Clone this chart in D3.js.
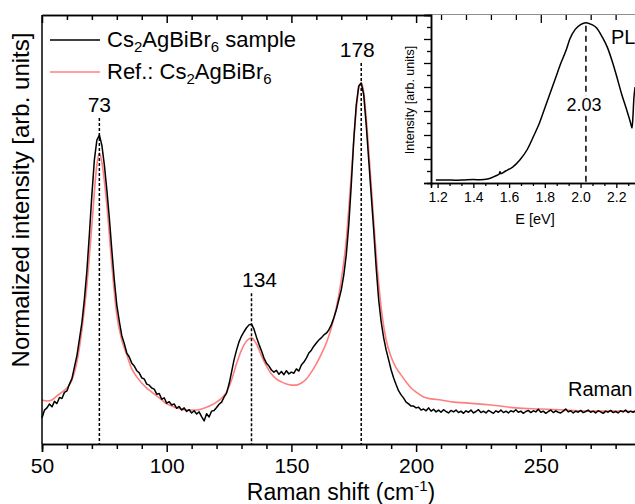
<!DOCTYPE html>
<html><head><meta charset="utf-8">
<script src="https://cdn.jsdelivr.net/npm/d3@7/dist/d3.min.js"></script>
<style>body{margin:0;background:#fff}svg{display:block}text{font-family:"Liberation Sans",Arial,sans-serif;fill:#000}</style>
</head><body><svg id="c" width="635" height="504"></svg>
<script>
// ---------- DATA ----------
const sampleShift = d3.range(50, 291, 1);
const sampleIntensity = [
0.072,0.094,0.100,0.111,0.103,0.118,0.112,0.129,0.126,0.143,
0.147,0.166,0.181,0.213,0.245,0.290,0.336,0.401,0.480,0.581,
0.690,0.787,0.842,0.856,0.828,0.773,0.704,0.626,0.537,0.454,
0.385,0.340,0.300,0.278,0.252,0.241,0.224,0.216,0.203,0.197,
0.183,0.180,0.166,0.163,0.155,0.152,0.138,0.140,0.124,0.128,
0.113,0.117,0.108,0.111,0.099,0.104,0.094,0.100,0.090,0.095,
0.086,0.092,0.083,0.089,0.076,0.064,0.084,0.075,0.091,0.093,
0.101,0.110,0.116,0.130,0.141,0.166,0.199,0.233,0.260,0.283,
0.299,0.311,0.322,0.330,0.332,0.318,0.296,0.276,0.258,0.238,
0.224,0.216,0.205,0.199,0.204,0.193,0.201,0.192,0.203,0.194,
0.199,0.196,0.208,0.202,0.219,0.227,0.238,0.252,0.260,0.271,
0.280,0.288,0.294,0.302,0.307,0.316,0.330,0.349,0.371,0.399,
0.427,0.468,0.524,0.607,0.717,0.842,0.939,0.992,1.000,0.967,
0.884,0.787,0.690,0.593,0.488,0.399,0.338,0.294,0.260,0.233,
0.205,0.183,0.164,0.147,0.136,0.127,0.116,0.111,0.105,0.105,
0.100,0.102,0.094,0.097,0.092,0.100,0.091,0.096,0.089,0.094,
0.088,0.095,0.090,0.086,0.093,0.089,0.094,0.087,0.091,0.085,
0.092,0.088,0.094,0.086,0.090,0.095,0.087,0.091,0.086,0.093,
0.089,0.085,0.092,0.088,0.094,0.087,0.091,0.086,0.092,0.089,
0.095,0.088,0.091,0.085,0.090,0.093,0.087,0.092,0.089,0.096,
0.088,0.091,0.085,0.090,0.094,0.087,0.092,0.088,0.086,0.091,
0.097,0.089,0.092,0.086,0.091,0.088,0.093,0.087,0.090,0.094,
0.088,0.091,0.086,0.092,0.089,0.085,0.091,0.088,0.093,0.087,
0.090,0.086,0.092,0.089,0.094,0.087,0.091,0.088,0.092,0.089,
0.090];

const refShift = [50,52,54,56,58,60,62,64,66,68,70,72,73,74,76,78,80,82,84,86,88,90,92,94,96,98,100,102,104,106,108,110,112,114,116,118,120,122,124,126,128,130,132,134,136,138,140,142,144,146,148,150,152,154,156,158,160,162,164,166,168,170,172,174,176,177,178,179,180,182,184,186,188,190,192,194,196,198,200,203,206,210,215,220,230,240,250,260,270,280,290];
const refIntensity = [0.122,0.119,0.122,0.133,0.144,0.155,0.177,0.227,0.316,0.440,0.607,0.773,0.806,0.781,0.662,0.496,0.357,0.288,0.247,0.208,0.186,0.169,0.155,0.144,0.133,0.122,0.111,0.105,0.100,0.097,0.094,0.094,0.094,0.097,0.102,0.108,0.116,0.127,0.144,0.177,0.222,0.260,0.285,0.294,0.277,0.244,0.216,0.194,0.180,0.172,0.166,0.163,0.163,0.169,0.180,0.199,0.222,0.249,0.280,0.321,0.377,0.454,0.565,0.745,0.925,0.986,1.000,0.975,0.903,0.717,0.524,0.377,0.288,0.241,0.211,0.191,0.172,0.155,0.144,0.130,0.125,0.122,0.116,0.114,0.108,0.100,0.097,0.094,0.091,0.091,0.089];

const peakPositions = [73, 134, 178];
const peakLabels = ["73", "134", "178"];

const plEnergy = [1.19,1.25,1.30,1.35,1.40,1.44,1.48,1.52,1.545,1.549,1.553,1.58,1.62,1.66,1.70,1.74,1.77,1.80,1.83,1.86,1.89,1.92,1.94,1.97,2.00,2.03,2.06,2.09,2.12,2.15,2.18,2.20,2.23,2.26,2.28,2.288,2.293,2.298,2.305];
const plIntensity = [0.025,0.025,0.023,0.026,0.029,0.027,0.033,0.056,0.075,0.095,0.078,0.100,0.133,0.192,0.275,0.400,0.500,0.625,0.750,0.875,1.000,1.110,1.200,1.280,1.320,1.336,1.322,1.292,1.220,1.130,1.000,0.900,0.740,0.600,0.500,0.458,0.550,0.700,0.800];
const plPeak = 2.03;

const xTicksMain = [50, 100, 150, 200, 250];
const insetTicks = [1.2, 1.4, 1.6, 1.8, 2.0, 2.2];

// ---------- DRAW ----------
const svg = d3.select("#c");
const L = 42, T = 15, B = 444;
const x = d3.scaleLinear().domain([50, 300]).range([L, L + 250 * 2.494]);
const y = d3.scaleLinear().domain([0, (B - T) / 361]).range([B, T]);

// curves
svg.append("path")
  .datum(refShift.map((s, i) => [s, refIntensity[i]]))
  .attr("d", d3.line().x(d => x(d[0])).y(d => y(d[1])).curve(d3.curveMonotoneX))
  .attr("fill", "none").attr("stroke", "#ff7f7f").attr("stroke-width", 1.6);
svg.append("path")
  .datum(sampleShift.map((s, i) => [s, sampleIntensity[i]]))
  .attr("d", d3.line().x(d => x(d[0])).y(d => y(d[1])))
  .attr("fill", "none").attr("stroke", "#000").attr("stroke-width", 1.5)
  .attr("stroke-linejoin", "round");

// peak markers
const labelDy = [-23, -37, -26];
const labelDx = [0, 8, -4];
peakPositions.forEach((p, i) => {
  const idx = sampleShift.indexOf(p);
  const top = y(sampleIntensity[idx]) + labelDy[i];
  svg.append("line").attr("x1", x(p)).attr("x2", x(p))
    .attr("y1", top + 6).attr("y2", B)
    .attr("stroke", "#000").attr("stroke-width", 1.5).attr("stroke-dasharray", "3,2");
  svg.append("text").attr("x", x(p) + labelDx[i]).attr("y", top)
    .attr("text-anchor", "middle").attr("font-size", 21).text(peakLabels[i]);
});

// axes
const minorMain = d3.range(50, 301, 10).filter(v => v % 50 !== 0);
const gB = svg.append("g").attr("transform", `translate(0,${B})`);
gB.call(d3.axisBottom(x).tickValues(xTicksMain).tickSize(8).tickPadding(6).tickFormat(d3.format("d")));
gB.append("g").call(d3.axisBottom(x).tickValues(minorMain).tickSize(5).tickFormat(""));
const gT = svg.append("g").attr("transform", `translate(0,${T})`);
gT.call(d3.axisTop(x).tickValues(xTicksMain).tickSizeInner(-8).tickSizeOuter(0).tickFormat(""));
gT.append("g").call(d3.axisTop(x).tickValues(minorMain).tickSizeInner(-5).tickSizeOuter(0).tickFormat(""));
svg.selectAll(".domain").attr("stroke-width", 1.5);
svg.selectAll(".tick line").attr("stroke-width", 1.5);
gB.selectAll("text").attr("font-size", 21).attr("font-family", "Liberation Sans, Arial, sans-serif");
svg.append("line").attr("x1", L).attr("x2", L).attr("y1", T).attr("y2", B)
  .attr("stroke", "#000").attr("stroke-width", 1.5);

svg.append("text").attr("x", 341).attr("y", 500).attr("text-anchor", "middle").attr("font-size", 23)
  .call(t => { t.append("tspan").text("Raman shift (cm");
               t.append("tspan").attr("font-size", 15).attr("dy", -9).text("-1");
               t.append("tspan").attr("dy", 9).text(")"); });
svg.append("text").attr("transform", "translate(29,200) rotate(-90)").attr("text-anchor", "middle")
  .attr("font-size", 24).text("Normalized intensity [arb. units]");

// legend
function formula(t, pre, post) {
  t.append("tspan").text(pre + "Cs");
  t.append("tspan").attr("font-size", 15).attr("dy", 5).text("2");
  t.append("tspan").attr("dy", -5).text("AgBiBr");
  t.append("tspan").attr("font-size", 15).attr("dy", 5).text("6");
  if (post) t.append("tspan").attr("dy", -5).text(post);
}
svg.append("line").attr("x1", 50).attr("x2", 100).attr("y1", 40).attr("y2", 40).attr("stroke", "#000").attr("stroke-width", 1.5);
svg.append("text").attr("x", 107).attr("y", 47).attr("font-size", 22).call(t => formula(t, "", " sample"));
svg.append("line").attr("x1", 50).attr("x2", 100).attr("y1", 72).attr("y2", 72).attr("stroke", "#ff7f7f").attr("stroke-width", 1.6);
svg.append("text").attr("x", 107).attr("y", 79).attr("font-size", 22).call(t => formula(t, "Ref.: ", null));

svg.append("text").attr("x", 568).attr("y", 396).attr("font-size", 20).text("Raman");

// ---------- INSET ----------
const iL = 431, iT = 15, iB = 183;
const ix = d3.scaleLinear().domain([1.163, 2.4]).range([iL, iL + 1.237 * 178.7]);
const iy = d3.scaleLinear().domain([0, 1.4]).range([iB, iT]);
const ins = svg.append("g");
ins.append("rect").attr("x", iL).attr("y", iT).attr("width", 635 - iL).attr("height", iB - iT).attr("fill", "#fff");
const gT2 = ins.append("g").attr("transform", `translate(0,${T})`);
gT2.call(d3.axisTop(x).tickValues(xTicksMain.filter(v => x(v) > iL)).tickSizeInner(-8).tickSizeOuter(0).tickFormat(""));
gT2.append("g").call(d3.axisTop(x).tickValues(minorMain.filter(v => x(v) > iL)).tickSizeInner(-5).tickSizeOuter(0).tickFormat(""));
gT2.selectAll(".domain").remove();
gT2.selectAll(".tick line").attr("stroke-width", 1.3);

ins.append("path").datum(plEnergy.map((e, i) => [e, plIntensity[i]]))
  .attr("d", d3.line().x(d => ix(d[0])).y(d => iy(d[1])).curve(d3.curveMonotoneX))
  .attr("fill", "none").attr("stroke", "#000").attr("stroke-width", 1.5);

ins.append("line").attr("x1", ix(plPeak)).attr("x2", ix(plPeak)).attr("y1", iy(d3.max(plIntensity)) + 3).attr("y2", iB)
  .attr("stroke", "#000").attr("stroke-width", 1.5).attr("stroke-dasharray", "6,4");
ins.append("text").attr("x", ix(plPeak) - 2).attr("y", 111).attr("text-anchor", "middle").attr("font-size", 18)
  .attr("stroke", "#fff").attr("stroke-width", 5).attr("paint-order", "stroke").text(plPeak.toFixed(2));
ins.append("text").attr("x", 611).attr("y", 44).attr("font-size", 20).text("PL");

const iMinorX = d3.range(0, 18).map(k => +(1.2 + k * 0.2 / 3).toFixed(4)).filter(v => Math.abs(v * 5 - Math.round(v * 5)) > 1e-3);
const gIB = ins.append("g").attr("transform", `translate(0,${iB})`);
gIB.call(d3.axisBottom(ix).tickValues(insetTicks).tickSize(5).tickPadding(4).tickFormat(d3.format(".1f")));
gIB.append("g").call(d3.axisBottom(ix).tickValues(iMinorX).tickSize(3).tickFormat(""));
gIB.selectAll("text").attr("font-size", 14).attr("font-family", "Liberation Sans, Arial, sans-serif");
const gIL = ins.append("g").attr("transform", `translate(${iL},0)`);
gIL.call(d3.axisLeft(iy).tickValues(d3.range(0, 1.41, 0.2)).tickSize(7).tickFormat(""));
gIL.append("g").call(d3.axisLeft(iy).tickValues(d3.range(0.1, 1.41, 0.2)).tickSize(4).tickFormat(""));
ins.selectAll(".domain").attr("stroke-width", 1.5);
gIB.selectAll(".tick line").attr("stroke-width", 1.3);
gIL.selectAll(".tick line").attr("stroke-width", 1.3);
ins.append("text").attr("x", 535).attr("y", 224).attr("text-anchor", "middle").attr("font-size", 14.5).text("E [eV]");
ins.append("text").attr("transform", "translate(414,100) rotate(-90)").attr("text-anchor", "middle")
  .attr("font-size", 12.5).text("Intensity [arb. units]");
</script></body></html>
